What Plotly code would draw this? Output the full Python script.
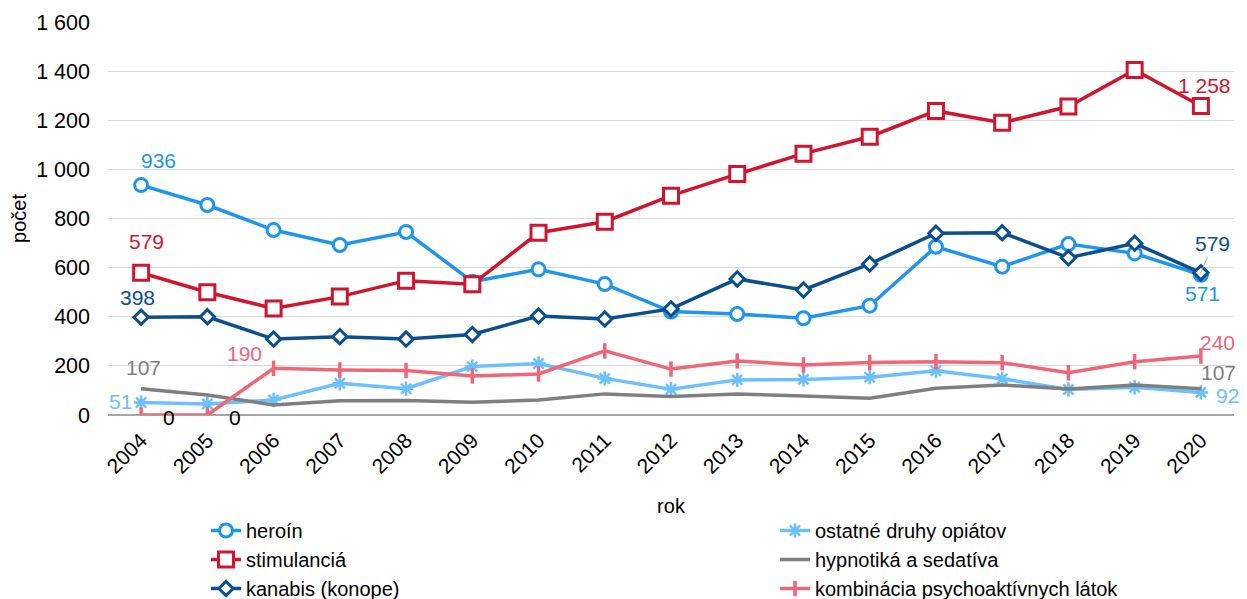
import plotly.graph_objects as go

years = [str(y) for y in range(2004, 2021)]

heroin = [936, 855, 753, 692, 745, 543, 593, 533, 421, 411, 394, 445, 685, 604, 696, 658, 571]
stimulancia = [579, 500, 434, 482, 547, 532, 742, 787, 893, 981, 1064, 1133, 1238, 1190, 1256, 1405, 1258]
kanabis = [398, 400, 309, 319, 309, 328, 403, 391, 432, 554, 509, 615, 740, 742, 640, 699, 579]
ostatne = [51, 45, 61, 129, 107, 197, 210, 149, 105, 143, 145, 154, 180, 148, 104, 113, 92]
hypnotika = [107, 81, 41, 58, 59, 52, 61, 86, 75, 86, 77, 68, 109, 122, 106, 122, 107]
kombinacia = [0, 0, 190, 183, 181, 159, 167, 261, 187, 220, 204, 214, 217, 213, 172, 217, 240]

names = ["heroín", "stimulanciá", "kanabis (konope)",
         "ostatné druhy opiátov", "hypnotiká a sedatíva",
         "kombinácia psychoaktívnych látok"]

FONT = "Liberation Sans, Arial, sans-serif"
C_HER = "#1E96F0"
C_STI = "#D2152F"
C_KAN = "#0B4F8C"
C_OST = "#6DC0FF"
C_HYP = "#7F7F7F"
C_KOM = "#EF6677"

# figure is drawn inside the page body (8px default margin), so sizes are offset by 8px
W, H = 1239, 599
L_M, T_M, R_M = 100, 14, 13
PH = 393
B_M = H - T_M - PH
PW = W - L_M - R_M

fig = go.Figure()

def add(name, vals, color, symbol, size, legend, mline=3):
    fig.add_trace(go.Scatter(
        x=years, y=vals, name=name, mode="lines+markers" if symbol else "lines",
        line=dict(color=color, width=3.5),
        marker=dict(symbol=symbol or "circle", size=size,
                    color="white" if symbol and "open" not in symbol else color,
                    line=dict(color=color, width=mline)),
        legend=legend,
    ))

add(names[0], heroin, C_HER, "circle", 13, "legend")
add(names[1], stimulancia, C_STI, "square", 15, "legend")
add(names[2], kanabis, C_KAN, "diamond", 11, "legend")
add(names[3], ostatne, C_OST, "asterisk-open", 12, "legend2", 2.5)
add(names[4], hypnotika, C_HYP, None, 0, "legend2")
add(names[5], kombinacia, C_KOM, "line-ns-open", 11, "legend2", 3.5)

def fmt(v):
    return f"{v:,}".replace(",", " ")

LF = 21

def lab(i, vals, color, xs=0, ys=0, xanchor="center", **kw):
    fig.add_annotation(x=i, y=vals[i], text=fmt(vals[i]), showarrow=False, xshift=xs, yshift=ys,
                       xanchor=xanchor, font=dict(family=FONT, size=LF, color=color), **kw)

L = len(years) - 1
lab(0, heroin, C_HER, 17, 25)
lab(L, heroin, C_HER, 2, -19)
lab(0, stimulancia, C_STI, 5, 31)
lab(L, stimulancia, C_STI, 4, 21)
lab(0, kanabis, C_KAN, -4, 20)
fig.add_annotation(x=L, y=kanabis[L], text=fmt(kanabis[L]), showarrow=True, arrowhead=0,
                   arrowcolor="#A6A6A6", arrowwidth=1, ax=12, ay=-29,
                   font=dict(family=FONT, size=LF, color=C_KAN))
lab(0, ostatne, C_OST, -7, 1, "right")
lab(L, ostatne, C_OST, 27, -3)
lab(0, hypnotika, C_HYP, 2, 21)
lab(L, hypnotika, C_HYP, 18, 16)
lab(0, kombinacia, "#000000", 28, -2)
lab(1, kombinacia, "#000000", 28, -2)
lab(2, kombinacia, C_KOM, -29, 15)
lab(L, kombinacia, C_KOM, 17, 14)

leg_common = dict(orientation="v", xanchor="left", yanchor="top",
                  font=dict(family=FONT, size=20, color="#000000"),
                  bgcolor="rgba(0,0,0,0)", traceorder="normal")

leg_top = 503
fig.update_layout(
    width=W, height=H, autosize=False,
    margin=dict(l=L_M, r=R_M, t=T_M, b=B_M, pad=0, autoexpand=False),
    paper_bgcolor="white", plot_bgcolor="white",
    separators=", ",
    font=dict(family=FONT, size=21, color="#000000"),
    showlegend=True,
    legend=dict(x=(198 - L_M) / PW, y=(T_M + PH - leg_top) / PH, **leg_common),
    legend2=dict(x=(767 - L_M) / PW, y=(T_M + PH - leg_top) / PH, **leg_common),
    xaxis=dict(type="category", range=[-0.5, 16.5], tickangle=-45,
               showgrid=False, ticks="", showline=False, ticklabelstandoff=8,
               tickfont=dict(family=FONT, size=21),
               title=dict(text="rok", font=dict(family=FONT, size=20), standoff=22)),
    yaxis=dict(range=[0, 1600], dtick=200, tickformat=",d",
               showgrid=True, gridcolor="#D9D9D9", gridwidth=1,
               zeroline=True, zerolinecolor="#A6A6A6", zerolinewidth=1.5,
               ticks="", ticklabelstandoff=17,
               tickfont=dict(family=FONT, size=21.5),
               title=dict(text="počet", font=dict(family=FONT, size=20), standoff=12)),
)

fig.write_html("out.html")
